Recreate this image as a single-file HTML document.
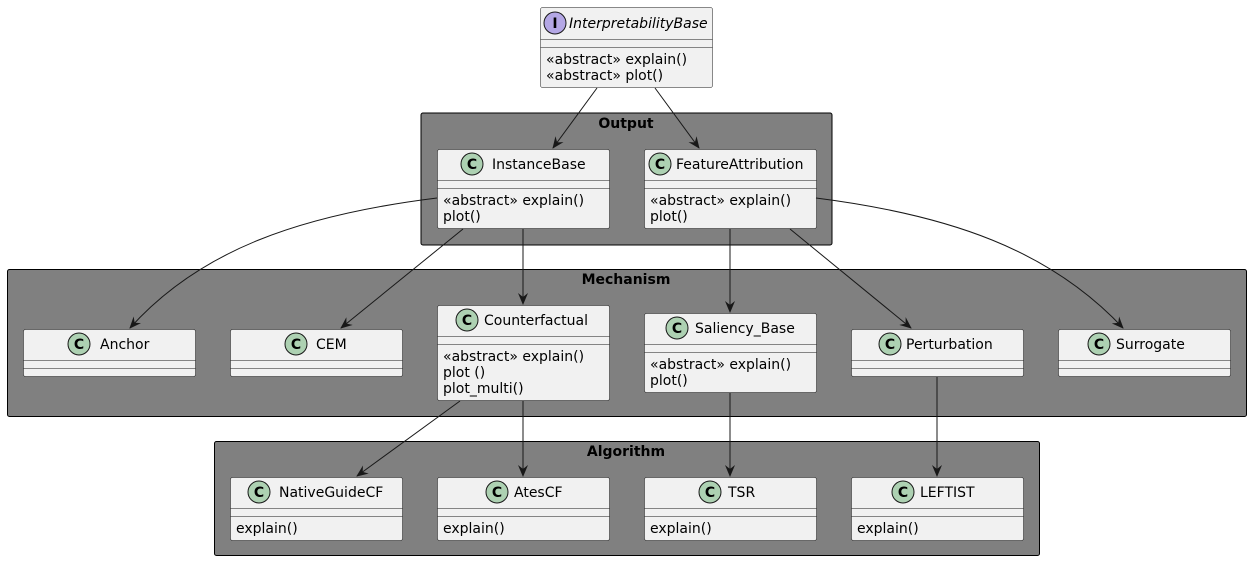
<!DOCTYPE html>
<html><head><meta charset="utf-8"><style>
html,body{margin:0;padding:0;background:#fff;}
svg text{font-family:"DejaVu Sans","Liberation Sans",sans-serif;font-size:14px;fill:#000;}
.b{fill:#F1F1F1;stroke:#181818;stroke-width:0.5;}
.l{stroke:#181818;stroke-width:0.5;}
.p{fill:#808080;stroke:#000;stroke-width:1;}
.a{fill:none;stroke:#181818;stroke-width:1;}
.ci{fill:#ADD1B2;stroke:#181818;stroke-width:1;}
.t{font-weight:bold;}
</style></head><body>
<svg width="1251" height="561" viewBox="0 0 1251 561" xmlns="http://www.w3.org/2000/svg">
<defs>
<marker id="ar" viewBox="0 0 12 10" refX="11" refY="5" markerWidth="12" markerHeight="10" markerUnits="userSpaceOnUse" orient="auto">
<path d="M0,0 L12,5 L0,10 L4,5 Z" fill="#181818"/>
</marker>
</defs>

<!-- packages -->
<rect class="p" x="421" y="113" width="411" height="132" rx="2"/>
<text class="t" x="626" y="128" text-anchor="middle">Output</text>
<rect class="p" x="7.5" y="269.5" width="1239" height="147" rx="2"/>
<text class="t" x="626" y="284" text-anchor="middle">Mechanism</text>
<rect class="p" x="214.5" y="441.5" width="825" height="114" rx="2"/>
<text class="t" x="626" y="456" text-anchor="middle">Algorithm</text>

<!-- InterpretabilityBase -->
<rect class="b" x="540.5" y="7.5" width="172" height="80" rx="2"/>
<line class="l" x1="540.5" y1="39.5" x2="712.5" y2="39.5"/>
<line class="l" x1="540.5" y1="47.5" x2="712.5" y2="47.5"/>
<circle cx="555" cy="23" r="11" fill="#B4A7E5" stroke="#181818"/>
<text x="555" y="28" text-anchor="middle" class="t">I</text>
<text x="569" y="28" font-style="italic">InterpretabilityBase</text>
<text x="546" y="64">«abstract» explain()</text>
<text x="546" y="80">«abstract» plot()</text>

<!-- InstanceBase -->
<rect class="b" x="437.5" y="149.5" width="172" height="79" rx="2"/>
<line class="l" x1="437.5" y1="180.5" x2="609.5" y2="180.5"/>
<line class="l" x1="437.5" y1="188.5" x2="609.5" y2="188.5"/>
<circle class="ci" cx="472" cy="164" r="11"/><text x="472" y="169" text-anchor="middle" class="t">C</text>
<text x="492" y="169">InstanceBase</text>
<text x="443" y="205">«abstract» explain()</text>
<text x="443" y="221">plot()</text>

<!-- FeatureAttribution -->
<rect class="b" x="644.5" y="149.5" width="172" height="79" rx="2"/>
<line class="l" x1="644.5" y1="180.5" x2="816.5" y2="180.5"/>
<line class="l" x1="644.5" y1="188.5" x2="816.5" y2="188.5"/>
<circle class="ci" cx="660" cy="164" r="11"/><text x="660" y="169" text-anchor="middle" class="t">C</text>
<text x="676" y="169">FeatureAttribution</text>
<text x="650" y="205">«abstract» explain()</text>
<text x="650" y="221">plot()</text>

<!-- Anchor -->
<rect class="b" x="23.5" y="329.5" width="172" height="47" rx="2"/>
<line class="l" x1="23.5" y1="360.5" x2="195.5" y2="360.5"/>
<line class="l" x1="23.5" y1="368.5" x2="195.5" y2="368.5"/>
<circle class="ci" cx="79" cy="344" r="11"/><text x="79" y="349" text-anchor="middle" class="t">C</text>
<text x="100" y="349">Anchor</text>

<!-- CEM -->
<rect class="b" x="230.5" y="329.5" width="172" height="47" rx="2"/>
<line class="l" x1="230.5" y1="360.5" x2="402.5" y2="360.5"/>
<line class="l" x1="230.5" y1="368.5" x2="402.5" y2="368.5"/>
<circle class="ci" cx="296" cy="344" r="11"/><text x="296" y="349" text-anchor="middle" class="t">C</text>
<text x="316" y="349">CEM</text>

<!-- Counterfactual -->
<rect class="b" x="437.5" y="305.5" width="172" height="95" rx="2"/>
<line class="l" x1="437.5" y1="336.5" x2="609.5" y2="336.5"/>
<line class="l" x1="437.5" y1="344.5" x2="609.5" y2="344.5"/>
<circle class="ci" cx="467" cy="320" r="11"/><text x="467" y="325" text-anchor="middle" class="t">C</text>
<text x="484" y="325">Counterfactual</text>
<text x="443" y="361">«abstract» explain()</text>
<text x="443" y="377">plot ()</text>
<text x="443" y="393">plot_multi()</text>

<!-- Saliency_Base -->
<rect class="b" x="644.5" y="313.5" width="172" height="79" rx="2"/>
<line class="l" x1="644.5" y1="344.5" x2="816.5" y2="344.5"/>
<line class="l" x1="644.5" y1="352.5" x2="816.5" y2="352.5"/>
<circle class="ci" cx="677" cy="328" r="11"/><text x="677" y="333" text-anchor="middle" class="t">C</text>
<text x="695" y="333">Saliency_Base</text>
<text x="650" y="369">«abstract» explain()</text>
<text x="650" y="385">plot()</text>

<!-- Perturbation -->
<rect class="b" x="851.5" y="329.5" width="172" height="47" rx="2"/>
<line class="l" x1="851.5" y1="360.5" x2="1023.5" y2="360.5"/>
<line class="l" x1="851.5" y1="368.5" x2="1023.5" y2="368.5"/>
<circle class="ci" cx="890" cy="344" r="11"/><text x="890" y="349" text-anchor="middle" class="t">C</text>
<text x="906" y="349">Perturbation</text>

<!-- Surrogate -->
<rect class="b" x="1058.5" y="329.5" width="172" height="47" rx="2"/>
<line class="l" x1="1058.5" y1="360.5" x2="1230.5" y2="360.5"/>
<line class="l" x1="1058.5" y1="368.5" x2="1230.5" y2="368.5"/>
<circle class="ci" cx="1099" cy="344" r="11"/><text x="1099" y="349" text-anchor="middle" class="t">C</text>
<text x="1116" y="349">Surrogate</text>

<!-- Algorithm boxes -->
<rect class="b" x="230.5" y="477.5" width="172" height="63" rx="2"/>
<line class="l" x1="230.5" y1="508.5" x2="402.5" y2="508.5"/>
<line class="l" x1="230.5" y1="516.5" x2="402.5" y2="516.5"/>
<circle class="ci" cx="259" cy="492" r="11"/><text x="259" y="497" text-anchor="middle" class="t">C</text>
<text x="279" y="497">NativeGuideCF</text>
<text x="236" y="533">explain()</text>

<rect class="b" x="437.5" y="477.5" width="172" height="63" rx="2"/>
<line class="l" x1="437.5" y1="508.5" x2="609.5" y2="508.5"/>
<line class="l" x1="437.5" y1="516.5" x2="609.5" y2="516.5"/>
<circle class="ci" cx="497" cy="492" r="11"/><text x="497" y="497" text-anchor="middle" class="t">C</text>
<text x="514" y="497">AtesCF</text>
<text x="443" y="533">explain()</text>

<rect class="b" x="644.5" y="477.5" width="172" height="63" rx="2"/>
<line class="l" x1="644.5" y1="508.5" x2="816.5" y2="508.5"/>
<line class="l" x1="644.5" y1="516.5" x2="816.5" y2="516.5"/>
<circle class="ci" cx="710" cy="492" r="11"/><text x="710" y="497" text-anchor="middle" class="t">C</text>
<text x="728" y="497">TSR</text>
<text x="650" y="533">explain()</text>

<rect class="b" x="851.5" y="477.5" width="172" height="63" rx="2"/>
<line class="l" x1="851.5" y1="508.5" x2="1023.5" y2="508.5"/>
<line class="l" x1="851.5" y1="516.5" x2="1023.5" y2="516.5"/>
<circle class="ci" cx="903" cy="492" r="11"/><text x="903" y="497" text-anchor="middle" class="t">C</text>
<text x="920" y="497">LEFTIST</text>
<text x="857" y="533">explain()</text>

<!-- arrows -->
<path class="a" marker-end="url(#ar)" d="M597,88 L553,148"/>
<path class="a" marker-end="url(#ar)" d="M655,88 L699,148"/>
<path class="a" marker-end="url(#ar)" d="M437,198 C300,215 200,250 130,328"/>
<path class="a" marker-end="url(#ar)" d="M463,229 L341,328"/>
<path class="a" marker-end="url(#ar)" d="M523,229 L523,304"/>
<path class="a" marker-end="url(#ar)" d="M730,229 L730,312"/>
<path class="a" marker-end="url(#ar)" d="M790,229 L911,328"/>
<path class="a" marker-end="url(#ar)" d="M816,198 C950,215 1050,250 1123,328"/>
<path class="a" marker-end="url(#ar)" d="M460,401 L357,476"/>
<path class="a" marker-end="url(#ar)" d="M523,401 L523,476"/>
<path class="a" marker-end="url(#ar)" d="M730,393 L730,476"/>
<path class="a" marker-end="url(#ar)" d="M937,377 L937,476"/>
</svg>
</body></html>
